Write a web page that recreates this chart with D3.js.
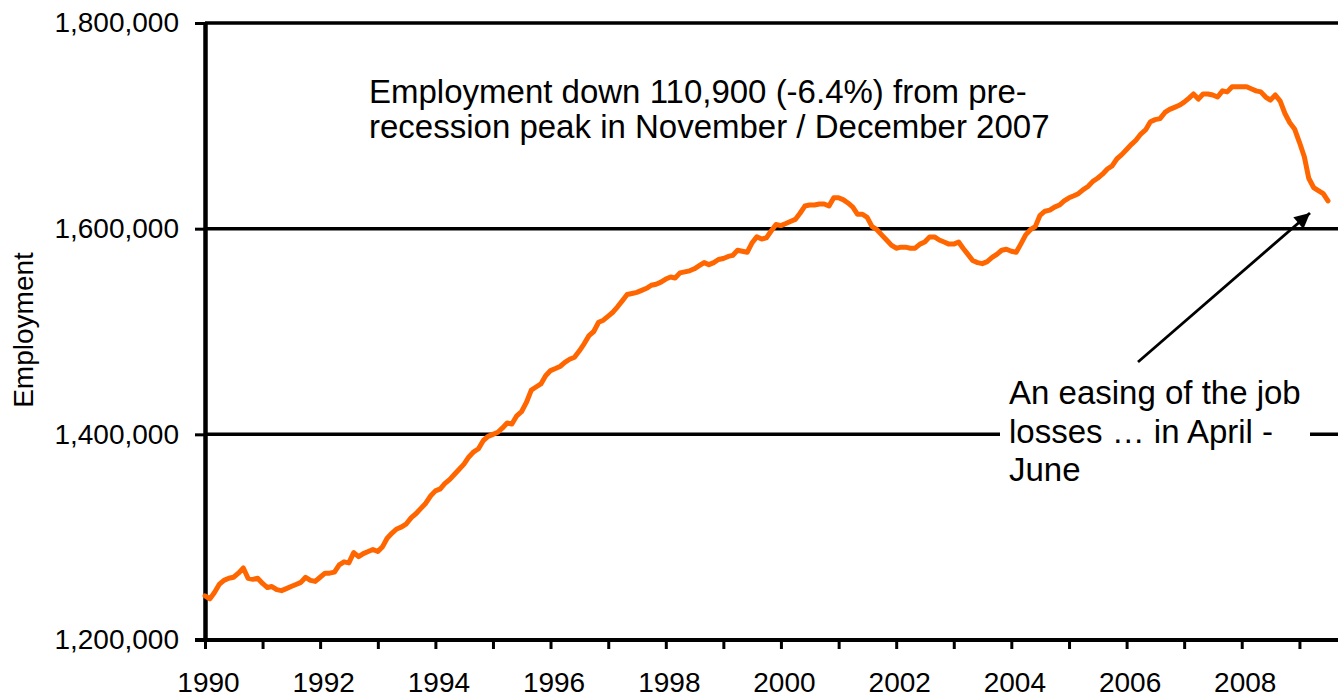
<!DOCTYPE html>
<head>
	<script src="https://d3js.org/d3.v7.min.js"></script>
	<style>
		body {
			margin: 0;
			background: #fff;
		}
		text {
			font-family: "Liberation Sans", Arial, sans-serif;
			fill: #000;
		}
	</style>
</head>

<body>
<svg></svg>
	<script>
		// monthly employment, thousands, starting January 1990
		var startMonth = new Date(1990, 0, 1);
		var employment = [
			1243, 1240, 1246, 1254, 1258, 1260, 1261, 1265, 1270, 1260, 1259, 1260,
			1255, 1251, 1252, 1249, 1248, 1250, 1252, 1254, 1256, 1261, 1258, 1257,
			1261, 1265, 1265, 1266, 1273, 1276, 1275, 1285, 1281, 1284, 1286, 1288,
			1286, 1291, 1299, 1304, 1308, 1310, 1313, 1319, 1323, 1328, 1333, 1340,
			1345, 1347, 1352, 1356, 1361, 1366, 1371, 1378, 1383, 1386, 1394, 1398,
			1400, 1402, 1406, 1411, 1410, 1418, 1422, 1431, 1443, 1446, 1449, 1457,
			1462, 1464, 1466, 1470, 1473, 1475, 1481, 1488, 1496, 1500, 1509, 1511,
			1515, 1519, 1524, 1530, 1536, 1537, 1538, 1540, 1542, 1545, 1546, 1548,
			1551, 1553, 1552, 1557, 1558, 1559, 1561, 1564, 1567, 1565, 1567, 1570,
			1571, 1573, 1574, 1579, 1578, 1577, 1586, 1592, 1590, 1591, 1598, 1604,
			1603, 1605, 1607, 1609, 1615, 1622, 1623, 1623, 1624, 1624, 1622, 1630,
			1630, 1628, 1625, 1621, 1614, 1614, 1611, 1602, 1599, 1594, 1589, 1584,
			1581, 1582, 1582, 1581, 1581, 1585, 1587, 1592, 1592, 1589, 1587, 1585,
			1585, 1587, 1581, 1575, 1569, 1567, 1566, 1568, 1572, 1575, 1579, 1580,
			1578, 1577, 1585, 1594, 1599, 1602, 1613, 1617, 1618, 1621, 1623, 1627,
			1630, 1632, 1634, 1638, 1641, 1646, 1649, 1653, 1658, 1661, 1668, 1672,
			1677, 1682, 1686, 1692, 1696, 1704, 1706, 1707, 1713, 1716, 1718, 1720,
			1723, 1727, 1731, 1726, 1731, 1731, 1730, 1728, 1734, 1733, 1738, 1738,
			1738, 1738, 1736, 1734, 1733, 1728, 1725, 1730, 1724, 1712, 1703, 1697,
			1684, 1670, 1649, 1640, 1637, 1634, 1627
		];
		var yTicks = [1200000, 1400000, 1600000, 1800000];
		var gridValues = [1400000, 1600000, 1800000];
		var yearLabels = [1990, 1992, 1994, 1996, 1998, 2000, 2002, 2004, 2006, 2008];
		var noteTop = ["Employment down 110,900 (-6.4%) from pre-", "recession peak in November / December 2007"];
		var noteBottom = ["An easing of the job", "losses \u2026 in April -", "June"];

		var width = 1338;
		var height = 695;
		var plotLeft = 205;
		var plotTop = 23;
		var plotBottom = 640;

		var data = employment.map(function(v, i) {
			return { date: d3.timeMonth.offset(startMonth, i), value: v * 1000 };
		});

		var svg = d3.select("svg")
			.attr('width', width)
			.attr('height', height);

		var xScale = d3.scaleTime()
			.domain([new Date(1990, 0, 1), new Date(2010, 0, 1)])
			.range([plotLeft, plotLeft + 57.6 * 20]);

		var yScale = d3.scaleLinear()
			.domain([1200000, 1800000])
			.range([plotBottom, plotTop]);

		// horizontal gridlines
		svg.selectAll('.grid')
			.data(gridValues)
			.enter()
			.append('line')
			.attr('x1', plotLeft)
			.attr('x2', width)
			.attr('y1', function(d) { return yScale(d); })
			.attr('y2', function(d) { return yScale(d); })
			.attr('stroke', '#000')
			.attr('stroke-width', 3.5);

		var xAxis = d3.axisBottom(xScale)
			.ticks(d3.timeYear.every(1))
			.tickSizeInner(9)
			.tickSizeOuter(0)
			.tickPadding(23)
			.tickFormat(function(d) {
				var yr = d.getFullYear();
				return yearLabels.indexOf(yr) >= 0 ? yr : "";
			});

		var yAxis = d3.axisLeft(yScale)
			.tickValues(yTicks)
			.tickSizeInner(10)
			.tickSizeOuter(0)
			.tickPadding(16)
			.tickFormat(d3.format(","));

		var gx = svg.append('g')
			.attr('transform', 'translate(0,' + plotBottom + ')')
			.call(xAxis);
		gx.select('.domain').attr('stroke-width', 4).attr('d', 'M' + (plotLeft - 10) + ',0H' + width);
		gx.selectAll('.tick line').attr('stroke-width', 3);
		gx.selectAll('.tick text')
			.attr('dx', 3)
			.style('font-size', '28px')
			.style('font-family', '"Liberation Sans", Arial, sans-serif');

		var gy = svg.append('g')
			.attr('transform', 'translate(' + plotLeft + ',0)')
			.call(yAxis);
		gy.select('.domain').attr('stroke-width', 4.5);
		gy.selectAll('.tick line').attr('stroke-width', 3);
		gy.selectAll('.tick text')
			.style('font-size', '28px')
			.style('font-family', '"Liberation Sans", Arial, sans-serif');

		svg.append('text')
			.attr('transform', 'translate(33,330) rotate(-90)')
			.attr('text-anchor', 'middle')
			.style('font-size', '28px')
			.text('Employment');

		var line = d3.line()
			.x(function(d) { return xScale(d.date); })
			.y(function(d) { return yScale(d.value); });

		svg.append('path')
			.datum(data)
			.attr('d', line)
			.attr('fill', 'none')
			.attr('stroke', '#ff6600')
			.attr('stroke-width', 5)
			.attr('stroke-linejoin', 'round')
			.attr('stroke-linecap', 'round');

		// annotations
		svg.append('text')
			.attr('x', 369)
			.attr('y', 103)
			.style('font-size', '33px')
			.selectAll('tspan')
			.data(noteTop)
			.enter()
			.append('tspan')
			.attr('x', 369)
			.attr('dy', function(d, i) { return i ? 35 : 0; })
			.text(function(d) { return d; });

		svg.append('rect')
			.attr('x', 1000)
			.attr('y', 368)
			.attr('width', 310)
			.attr('height', 124)
			.attr('fill', '#fff');

		svg.append('text')
			.attr('x', 1009)
			.attr('y', 404)
			.style('font-size', '33px')
			.selectAll('tspan')
			.data(noteBottom)
			.enter()
			.append('tspan')
			.attr('x', 1009)
			.attr('dy', function(d, i) { return i ? 38.7 : 0; })
			.text(function(d) { return d; });

		svg.append('defs').append('marker')
			.attr('id', 'head')
			.attr('viewBox', '0 0 10 10')
			.attr('refX', 10)
			.attr('refY', 5)
			.attr('markerWidth', 6)
			.attr('markerHeight', 5.5)
			.attr('markerUnits', 'strokeWidth')
			.attr('orient', 'auto')
			.append('path')
			.attr('d', 'M0,0L10,5L0,10Z')
			.attr('fill', '#000');

		svg.append('line')
			.attr('x1', 1138)
			.attr('y1', 362)
			.attr('x2', 1310)
			.attr('y2', 213)
			.attr('stroke', '#000')
			.attr('stroke-width', 2.8)
			.attr('marker-end', 'url(#head)');
	</script>
</body>
</html>
